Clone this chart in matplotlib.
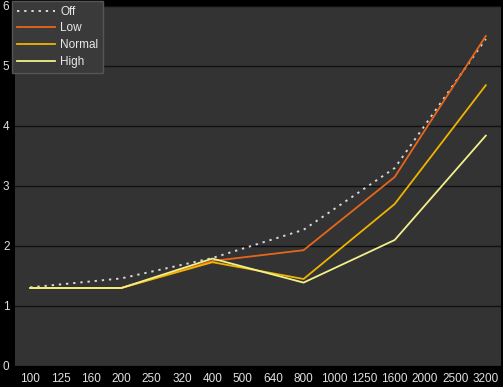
import matplotlib.pyplot as plt

plt.rcParams['font.family'] = ['Liberation Sans', 'DejaVu Sans']

iso_labels = ['100', '125', '160', '200', '250', '320', '400', '500', '640',
              '800', '1000', '1250', '1600', '2000', '2500', '3200']
measured = ['100', '200', '400', '800', '1600', '3200']

off = [1.31, 1.46, 1.80, 2.27, 3.30, 5.45]
low = [1.30, 1.30, 1.75, 1.93, 3.15, 5.50]
normal = [1.30, 1.30, 1.73, 1.45, 2.70, 4.68]
high = [1.30, 1.30, 1.79, 1.39, 2.10, 3.84]

x = [iso_labels.index(v) for v in measured]

fig = plt.figure(figsize=(5.03, 3.87), dpi=100, facecolor='black')
ax = fig.add_axes([15 / 503, 21 / 387, 486 / 503, 360 / 387])
ax.set_facecolor('#333333')

ax.plot(x, off, color='#d8d8d8', linestyle=(0, (1.2, 2.5)), linewidth=1.4, label='Off')
ax.plot(x, low, color='#e8661a', linewidth=1.3, label='Low')
ax.plot(x, normal, color='#f0b400', linewidth=1.3, label='Normal')
ax.plot(x, high, color='#f2f08a', linewidth=1.3, label='High')

ax.set_xlim(-0.5, len(iso_labels) - 0.5)
ax.set_ylim(0, 6)
ax.set_xticks(range(len(iso_labels)))
ax.set_xticklabels(iso_labels)
ax.set_yticks(range(7))
ax.tick_params(colors='#e0e0e0', labelsize=8.5, length=0, pad=5)
ax.tick_params(axis='y', pad=4)
ax.grid(axis='y', color='#111111', linewidth=1)
for s in ax.spines.values():
    s.set_visible(False)

leg = ax.legend(loc='upper left', bbox_to_anchor=(-3 / 486, 1 + 5 / 360),
                borderaxespad=0, fontsize=8.5,
                facecolor='#3a3a3a', edgecolor='#555555', labelcolor='#e8e8e8',
                framealpha=1, fancybox=False, handlelength=3.2, handletextpad=0.5,
                borderpad=0.4, labelspacing=0.4)

fig.savefig('out.png', dpi=100, facecolor='black')
